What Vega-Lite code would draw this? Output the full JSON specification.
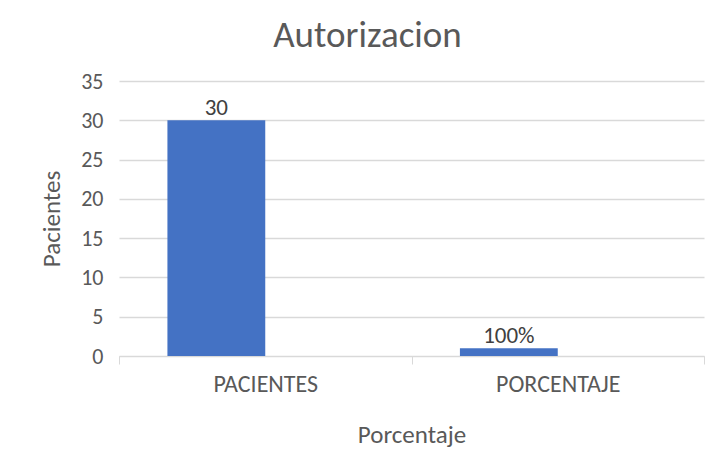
{
  "$schema": "https://vega.github.io/schema/vega-lite/v6.json",
  "width": 585,
  "height": 275,
  "autosize": {"type": "none"},
  "padding": {"left": 119, "top": 81, "right": 10, "bottom": 107},
  "background": "white",
  "title": {
    "text": "Autorizacion",
    "fontSize": 37,
    "font": "Carlito, Roboto, sans-serif",
    "fontWeight": "normal",
    "color": "#595959",
    "anchor": "middle",
    "dx": -44,
    "offset": 15
  },
  "data": {
    "values": [
      {"categoria": "PACIENTES", "serie": "Serie1", "valor": 30, "etiqueta": "30"},
      {"categoria": "PORCENTAJE", "serie": "Serie1", "valor": 1, "etiqueta": "100%"}
    ]
  },
  "encoding": {
    "x": {
      "field": "categoria",
      "type": "nominal",
      "sort": null,
      "scale": {"paddingInner": 0, "paddingOuter": 0},
      "axis": {
        "title": "Porcentaje",
        "labelAngle": 0,
        "tickBand": "extent",
        "tickSize": 8,
        "tickColor": "#d9d9d9",
        "domainColor": "#d9d9d9",
        "labelColor": "#595959",
        "labelFont": "Carlito, Roboto, sans-serif",
        "labelFontSize": 24,
        "labelPadding": 8,
        "titleFont": "Carlito, Roboto, sans-serif",
        "titleFontSize": 25,
        "titleFontWeight": "normal",
        "titleColor": "#595959",
        "titlePadding": 26
      }
    },
    "xOffset": {"field": "serie", "type": "nominal", "scale": {"domain": ["Serie1", "Serie2"], "paddingInner": 0, "paddingOuter": 0.495}},
    "y": {
      "field": "valor",
      "type": "quantitative",
      "scale": {"domain": [0, 35]},
      "axis": {
        "title": "Pacientes",
        "values": [0, 5, 10, 15, 20, 25, 30, 35],
        "domain": false,
        "ticks": false,
        "gridColor": "#d9d9d9",
        "gridWidth": 1.5,
        "labelColor": "#595959",
        "labelFont": "Carlito, Roboto, sans-serif",
        "labelFontSize": 22,
        "labelPadding": 16,
        "titleFont": "Carlito, Roboto, sans-serif",
        "titleFontSize": 25,
        "titleFontWeight": "normal",
        "titleColor": "#595959",
        "titlePadding": 16
      }
    }
  },
  "layer": [
    {"mark": {"type": "bar", "color": "#4472C4"}},
    {
      "mark": {"type": "text", "dy": -12, "fontSize": 23, "font": "Carlito, Roboto, sans-serif", "color": "#404040"},
      "encoding": {"text": {"field": "etiqueta"}}
    }
  ],
  "config": {"view": {"stroke": null}}
}
